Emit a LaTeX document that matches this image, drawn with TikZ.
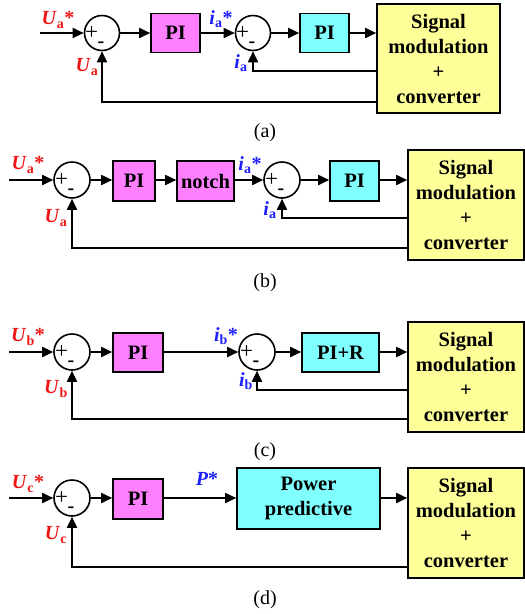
\documentclass[tikz,border=0pt]{standalone}
\usepackage{fontspec}
\setmainfont{Liberation Serif}
\usetikzlibrary{arrows.meta,calc}
\definecolor{mag}{RGB}{255,128,255}
\definecolor{cyn}{RGB}{128,255,255}
\definecolor{ylw}{RGB}{255,255,153}
\definecolor{lred}{RGB}{240,20,20}
\definecolor{lblue}{RGB}{30,30,255}
\newcommand{\vl}[3]{\textbf{\textit{#1}}\textsubscript{\textbf{#2}}\textbf{#3}}
\begin{document}
\begin{tikzpicture}[x=1pt,y=-1pt,
  font=\fontsize{20}{25}\selectfont,
  arr/.style={line width=1.8pt,-{Triangle[length=11pt,width=10pt]}},
  blk/.style={draw,line width=1.6pt,inner sep=0pt,font=\fontsize{20.5}{25}\selectfont\bfseries,align=center},
  pibox/.style={blk,fill=mag},
  cybox/.style={blk,fill=cyn},
  ybox/.style={blk,fill=ylw,minimum width=116pt,minimum height=110pt},
  sumc/.style={draw,circle,line width=1.6pt,inner sep=0pt,minimum size=36pt},
  rlbl/.style={text=lred,inner sep=0pt},
  blbl/.style={text=lblue,inner sep=0pt},
  plus/.style={inner sep=0pt,font=\fontsize{23}{23}\selectfont},
  minus/.style={inner sep=0pt,font=\fontsize{20}{20}\selectfont\bfseries},
  captxt/.style={inner sep=0pt,font=\fontsize{20}{20}\selectfont}]
\useasboundingbox (0,0) rectangle (525,614);
% ---------- (a)
\node[sumc,minimum size=35pt] (s1a) at (102,33) {};
\node[sumc,minimum size=35pt] (s2a) at (253,33) {};
\node[pibox,minimum width=49pt,minimum height=39pt] (p1a) at (175.5,33) {PI};
\node[cybox,minimum width=49pt,minimum height=39pt] (p2a) at (324.5,33) {PI};
\node[ybox,minimum width=123pt,minimum height=109pt] (ya) at (438.5,58.5) {Signal\\modulation\\+\\converter};
\foreach \s in {s1a,s2a}{
  \node[plus] at ($(\s.center)+(-10.5,0)$) {+};
  \node[minus] at ($(\s.center)+(-1,12)$) {-};}
\coordinate (ina) at (40,33);
\coordinate (fia) at (0,71);
\coordinate (foa) at (0,102);
\draw[arr] (ina) -- (s1a.west);
\draw[arr] (s1a.east) -- (p1a.west);
\draw[arr] (p1a.east) -- (s2a.west);
\draw[arr] (s2a.east) -- (p2a.west);
\draw[arr] (p2a.east) -- (p2a.east -| ya.west);
\draw[arr] (ya.west |- fia) -| (s2a.south);
\draw[arr] (ya.west |- foa) -| (s1a.south);
\node[rlbl] (la1) at (58,20) {\vl{U}{a}{*}};
\node[rlbl] (la2) at (87,67) {\vl{U}{a}{}};
\node[blbl] (la3) at (221,19) {\vl{i}{a}{*}};
\node[blbl] (la4) at (241,63) {\vl{i}{a}{}};
\node[captxt] (ca) at (265,133) {(a)};
% ---------- (b)
\node[sumc] (s1b) at (72,180) {};
\node[sumc] (s2b) at (282,180) {};
\node[pibox,minimum width=42pt,minimum height=40pt] (p1b) at (134,181) {PI};
\node[pibox,minimum width=57pt,minimum height=40pt] (nb) at (205.5,181) {notch};
\node[cybox,minimum width=49pt,minimum height=40pt] (p2b) at (354.5,181) {PI};
\node[ybox] (yb) at (466,205) {Signal\\modulation\\+\\converter};
\foreach \s in {s1b,s2b}{
  \node[plus] at ($(\s.center)+(-10.5,0)$) {+};
  \node[minus] at ($(\s.center)+(-1,12)$) {-};}
\coordinate (inb) at (9,180);
\coordinate (fib) at (0,218);
\coordinate (fob) at (0,248);
\draw[arr] (inb) -- (s1b.west);
\draw[arr] (s1b.east) -- (s1b.east -| p1b.west);
\draw[arr] (p1b.east |- s1b.east) -- (s1b.east -| nb.west);
\draw[arr] (nb.east |- s2b.west) -- (s2b.west);
\draw[arr] (s2b.east) -- (s2b.east -| p2b.west);
\draw[arr] (p2b.east |- s2b.east) -- (s2b.east -| yb.west);
\draw[arr] (yb.west |- fib) -| (s2b.south);
\draw[arr] (yb.west |- fob) -| (s1b.south);
\node[rlbl] (lb1) at (28,165) {\vl{U}{a}{*}};
\node[rlbl] (lb2) at (56,218) {\vl{U}{a}{}};
\node[blbl] (lb3) at (250,165) {\vl{i}{a}{*}};
\node[blbl] (lb4) at (270,210) {\vl{i}{a}{}};
\node[captxt] (cb) at (265,283) {(b)};
% ---------- (c)
\node[sumc] (s1c) at (72,352) {};
\node[sumc] (s2c) at (257,352) {};
\node[pibox,minimum width=50pt,minimum height=39pt] (p1c) at (138,352.5) {PI};
\node[cybox,minimum width=77pt,minimum height=39pt] (p2c) at (340.5,352.5) {PI+R};
\node[ybox] (yc) at (466,377) {Signal\\modulation\\+\\converter};
\foreach \s in {s1c,s2c}{
  \node[plus] at ($(\s.center)+(-10.5,0)$) {+};
  \node[minus] at ($(\s.center)+(-1,12)$) {-};}
\coordinate (inc) at (9,352);
\coordinate (fic) at (0,390);
\coordinate (foc) at (0,419);
\draw[arr] (inc) -- (s1c.west);
\draw[arr] (s1c.east) -- (s1c.east -| p1c.west);
\draw[arr] (p1c.east |- s1c.east) -- (s2c.west);
\draw[arr] (s2c.east) -- (s2c.east -| p2c.west);
\draw[arr] (p2c.east |- s2c.east) -- (s2c.east -| yc.west);
\draw[arr] (yc.west |- fic) -| (s2c.south);
\draw[arr] (yc.west |- foc) -| (s1c.south);
\node[rlbl] (lc1) at (28,337) {\vl{U}{b}{*}};
\node[rlbl] (lc2) at (56,389) {\vl{U}{b}{}};
\node[blbl] (lc3) at (226,336) {\vl{i}{b}{*}};
\node[blbl] (lc4) at (246,381) {\vl{i}{b}{}};
\node[captxt] (cc) at (265,452) {(c)};
% ---------- (d)
\node[sumc] (s1d) at (72,498) {};
\node[pibox,minimum width=50pt,minimum height=40pt] (p1d) at (138,499) {PI};
\node[cybox,minimum width=143pt,minimum height=61pt] (ppd) at (308.5,498.5) {Power\\predictive};
\node[ybox] (yd) at (466,523) {Signal\\modulation\\+\\converter};
\node[plus] at ($(s1d.center)+(-10.5,0)$) {+};
\node[minus] at ($(s1d.center)+(-1,12)$) {-};
\coordinate (ind) at (9,498);
\coordinate (fod) at (0,567);
\draw[arr] (ind) -- (s1d.west);
\draw[arr] (s1d.east) -- (s1d.east -| p1d.west);
\draw[arr] (p1d.east |- s1d.east) -- (s1d.east -| ppd.west);
\draw[arr] (ppd.east |- s1d.east) -- (s1d.east -| yd.west);
\draw[arr] (yd.west |- fod) -| (s1d.south);
\node[rlbl] (ld1) at (28,484) {\vl{U}{c}{*}};
\node[rlbl] (ld2) at (56,535) {\vl{U}{c}{}};
\node[blbl] (ld3) at (207,479) {\textbf{\textit{P}*}};
\node[captxt] (cd) at (265,600) {(d)};
\end{tikzpicture}
\end{document}
